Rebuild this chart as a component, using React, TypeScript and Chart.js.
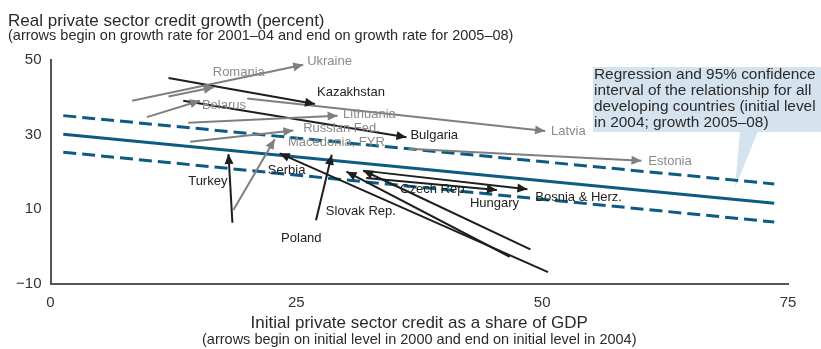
import React, { useEffect, useRef } from "react";
import { Chart, registerables } from "chart.js";

Chart.register(...registerables);

// ---- data ----
const xTicks = [0, 25, 50, 75];
const yTicks = [-10, 10, 30, 50];

const countries = [
  "Ukraine", "Romania", "Belarus", "Lithuania", "Latvia", "Russian Fed.", "Macedonia, FYR", "Estonia",
  "Kazakhstan", "Bulgaria", "Turkey", "Poland", "Serbia", "Czech Rep.", "Slovak Rep.", "Hungary", "Bosnia & Herz.",
];
// credit/GDP 2000 -> 2004
const creditStart = [8.3, 12.0, 9.8, 14.0, 20.0, 14.2, 18.6, 36.4, 12.0, 13.5, 18.5, 27.0, 50.6, 48.8, 46.7, 32.1, 32.0];
const creditEnd = [25.7, 16.6, 15.2, 29.2, 50.3, 24.7, 22.8, 60.1, 26.9, 36.2, 18.1, 28.6, 23.3, 31.8, 30.1, 45.4, 48.5];
// credit growth 2001-04 -> 2005-08
const growthStart = [39.1, 40.2, 34.7, 33.2, 39.7, 28.1, 9.8, 26.2, 45.2, 39.1, 6.4, 7.1, -6.8, -0.7, -2.7, 18.4, 20.3];
const growthEnd = [48.7, 42.7, 39.1, 35.1, 31.0, 31.1, 28.8, 23.0, 38.2, 29.3, 24.8, 24.6, 25.0, 20.4, 20.1, 15.2, 15.4];
const countryGroup = ["g", "g", "g", "g", "g", "g", "g", "g", "b", "b", "b", "b", "b", "b", "b", "b", "b"];
// label anchors (value space)
const labelX = [26.1, 16.5, 15.4, 29.75, 50.9, 25.7, 24.15, 60.8, 27.1, 36.6, 14.0, 23.45, 22.1, 35.55, 28.0, 42.65, 49.3];
const labelY = [49.7, 46.8, 37.7, 35.5, 31.0, 31.8, 27.9, 22.95, 41.4, 29.9, 17.6, 2.3, 20.5, 15.45, 9.55, 11.45, 13.3];

// regression of all developing countries
const regX = [1.3, 73.6];
const regFit = [30.1, 11.6];
const regUpper = [35.1, 16.8];
const regLower = [25.3, 6.6];

const titleText = "Real private sector credit growth (percent)";
const subtitleText = "(arrows begin on growth rate for 2001\u201304 and end on growth rate for 2005\u201308)";
const xTitleText = "Initial private sector credit as a share of GDP";
const xSubtitleText = "(arrows begin on initial level in 2000 and end on initial level in 2004)";
const calloutLines = [
  "Regression and 95% confidence",
  "interval of the relationship for all",
  "developing countries (initial level",
  "in 2004; growth 2005\u201308)",
];

const FONT = "'Liberation Sans', Arial, sans-serif";
const GRAY_LINE = "#7f7f7f";
const GRAY_TEXT = "#8a8a8a";
const BLACK_LINE = "#1e1e1e";
const BLACK_TEXT = "#222222";
const BLUE = "#0d5b82";

const overlay = {
  id: "overlay",
  beforeDatasetsDraw(chart: any) {
    const ctx = chart.ctx;
    ctx.save();
    ctx.fillStyle = "#d5e3ee";
    ctx.fillRect(593, 67, 240, 65);
    ctx.beginPath();
    ctx.moveTo(740, 131);
    ctx.lineTo(758, 131);
    ctx.lineTo(735, 188);
    ctx.closePath();
    ctx.fill();
    ctx.fillStyle = "#2a2a2a";
    ctx.font = `15.4px ${FONT}`;
    ctx.textBaseline = "middle";
    ctx.textAlign = "left";
    calloutLines.forEach((t, i) => ctx.fillText(t, 594, 75 + i * 15.8));
    ctx.restore();
  },
  afterDatasetsDraw(chart: any) {
    const ctx = chart.ctx;
    const xs = chart.scales.x;
    const ys = chart.scales.y;
    ctx.save();
    countries.forEach((name, i) => {
      const black = countryGroup[i] === "b";
      const x0 = xs.getPixelForValue(creditStart[i]);
      const y0 = ys.getPixelForValue(growthStart[i]);
      const x1 = xs.getPixelForValue(creditEnd[i]);
      const y1 = ys.getPixelForValue(growthEnd[i]);
      const a = Math.atan2(y1 - y0, x1 - x0);
      const L = 10, W = 4.5;
      ctx.fillStyle = black ? BLACK_LINE : GRAY_LINE;
      ctx.beginPath();
      ctx.moveTo(x1, y1);
      ctx.lineTo(x1 - L * Math.cos(a) + W * Math.sin(a), y1 - L * Math.sin(a) - W * Math.cos(a));
      ctx.lineTo(x1 - L * Math.cos(a) - W * Math.sin(a), y1 - L * Math.sin(a) + W * Math.cos(a));
      ctx.closePath();
      ctx.fill();
    });
    ctx.font = `13px ${FONT}`;
    ctx.textBaseline = "middle";
    ctx.textAlign = "left";
    countries.forEach((name, i) => {
      const black = countryGroup[i] === "b";
      ctx.fillStyle = black ? BLACK_TEXT : GRAY_TEXT;
      ctx.fillText(name, xs.getPixelForValue(labelX[i]), ys.getPixelForValue(labelY[i]));
    });
    ctx.restore();
  },
  afterDraw(chart: any) {
    const ctx = chart.ctx;
    const area = chart.chartArea;
    ctx.save();
    ctx.fillStyle = "#2a2a2a";
    ctx.textBaseline = "alphabetic";
    ctx.textAlign = "left";
    ctx.font = `17px ${FONT}`;
    ctx.fillText(titleText, 8, 26);
    ctx.font = `14.5px ${FONT}`;
    ctx.fillText(subtitleText, 8, 40);
    const cx = (area.left + area.right) / 2;
    ctx.textAlign = "center";
    ctx.font = `17px ${FONT}`;
    ctx.fillText(xTitleText, cx, 328);
    ctx.font = `14.5px ${FONT}`;
    ctx.fillText(xSubtitleText, cx, 344);
    ctx.restore();
  },
};

export default function App() {
  const ref = useRef<HTMLCanvasElement | null>(null);
  useEffect(() => {
    if (!ref.current) return;
    const arrowSets = countries.map((name, i) => ({
      label: name,
      data: [
        { x: creditStart[i], y: growthStart[i] },
        { x: creditEnd[i], y: growthEnd[i] },
      ],
      showLine: true,
      borderColor: countryGroup[i] === "b" ? BLACK_LINE : GRAY_LINE,
      borderWidth: 2,
      pointRadius: 0,
      order: 1,
    }));
    const regSets = [
      { label: "fit", data: regX.map((x, i) => ({ x, y: regFit[i] })), borderDash: [] as number[] },
      { label: "upper", data: regX.map((x, i) => ({ x, y: regUpper[i] })), borderDash: [13, 6] },
      { label: "lower", data: regX.map((x, i) => ({ x, y: regLower[i] })), borderDash: [13, 6] },
    ].map((d) => ({
      ...d,
      showLine: true,
      borderColor: BLUE,
      borderWidth: 3,
      pointRadius: 0,
      order: 10,
    }));
    const chart = new Chart(ref.current, {
      type: "scatter",
      data: { datasets: [...arrowSets, ...regSets] as any },
      options: {
        responsive: false,
        animation: false,
        devicePixelRatio: 1,
        layout: { padding: { top: 60, right: 33, left: 0, bottom: 0 } },
        plugins: { legend: { display: false }, tooltip: { enabled: false }, title: { display: false } },
        scales: {
          x: {
            type: "linear",
            min: 0,
            max: 75,
            afterBuildTicks: (s: any) => { s.ticks = xTicks.map((v) => ({ value: v })); },
            afterFit: (s: any) => { s.height = 65; },
            grid: { display: false, drawTicks: false },
            border: { display: true, color: "#555555", width: 2 },
            ticks: { color: "#333333", font: { size: 15, family: FONT }, padding: 10 },
          },
          y: {
            type: "linear",
            min: -10,
            max: 50,
            afterBuildTicks: (s: any) => { s.ticks = yTicks.map((v) => ({ value: v })); },
            afterFit: (s: any) => { s.width = 50.5; },
            grid: { display: false, drawTicks: false },
            border: { display: true, color: "#555555", width: 2 },
            ticks: {
              color: "#333333",
              font: { size: 15, family: FONT },
              padding: 9,
              callback: (v: any) => (Number(v) < 0 ? "\u2212" + Math.abs(Number(v)) : String(v)),
            },
          },
        },
      },
      plugins: [overlay],
    });
    return () => chart.destroy();
  }, []);
  return (
    <div style={{ position: "absolute", left: 0, top: 0, width: 821, height: 349, background: "#fff" }}>
      <canvas ref={ref} width={821} height={349} style={{ width: 821, height: 349, display: "block" }} />
    </div>
  );
}
